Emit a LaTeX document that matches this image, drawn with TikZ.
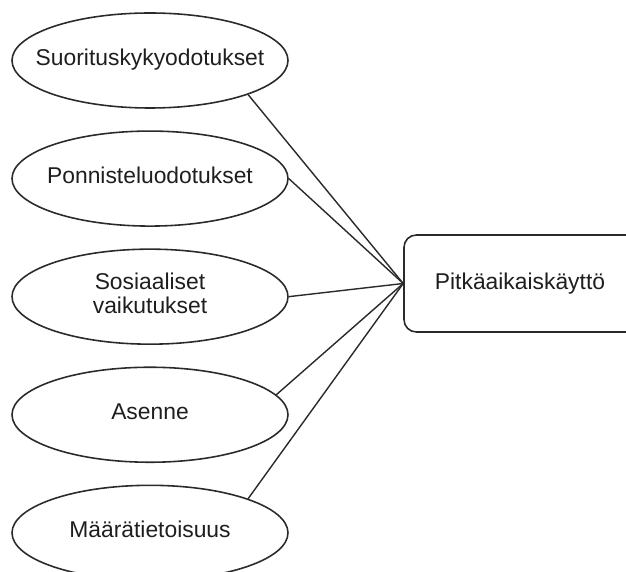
\documentclass[tikz,border=0pt]{standalone}
\usepackage{fontspec}
\setmainfont{Liberation Sans}
\usepackage{xcolor}
\usepackage{tikz}
\usetikzlibrary{positioning,shapes.geometric}
\definecolor{ink}{HTML}{1E1E1E}
\definecolor{edge}{HTML}{2A2A2A}
\newcommand{\ctrtext}[1]{\makebox[0pt]{\begin{tabular}{@{}c@{}}#1\end{tabular}}}

\begin{document}
\begin{tikzpicture}[
  font=\fontsize{13}{13.2}\selectfont,
  factor/.style={draw=edge, line width=0.9pt, ellipse, inner sep=0pt, minimum width=5.52cm, minimum height=1.9cm, text=ink},
  outcome/.style={draw=edge, line width=0.9pt, rounded corners=7pt, minimum width=5.0cm, minimum height=1.94cm, text=ink},
  link/.style={draw=edge, line width=0.8pt}
]
\useasboundingbox (0,0) rectangle (12.52,-11.44);

\node[factor] (perf) at (3.0,-1.21) {\ctrtext{Suorituskykyodotukset}};
\node[factor, below=0.43cm of perf] (effort) {\ctrtext{Ponnisteluodotukset}};
\node[factor, below=0.43cm of effort] (social) {\ctrtext{Sosiaaliset\\vaikutukset}};
\node[factor, below=0.43cm of social] (attit) {\ctrtext{Asenne}};
\node[factor, below=0.43cm of attit] (determ) {\ctrtext{Määrätietoisuus}};

% box runs past the right edge of the page
\node[outcome] (use) at (10.58,-5.67) {\hspace*{-0.36cm}Pitkäaikaiskäyttö};

\draw[link] (perf.south east) -- (use.west);
\draw[link] (effort.east) -- (use.west);
\draw[link] (social.east) -- (use.west);
\draw[link] (attit.9) -- (use.west);
\draw[link] (determ.north east) -- (use.west);
\end{tikzpicture}
\end{document}
